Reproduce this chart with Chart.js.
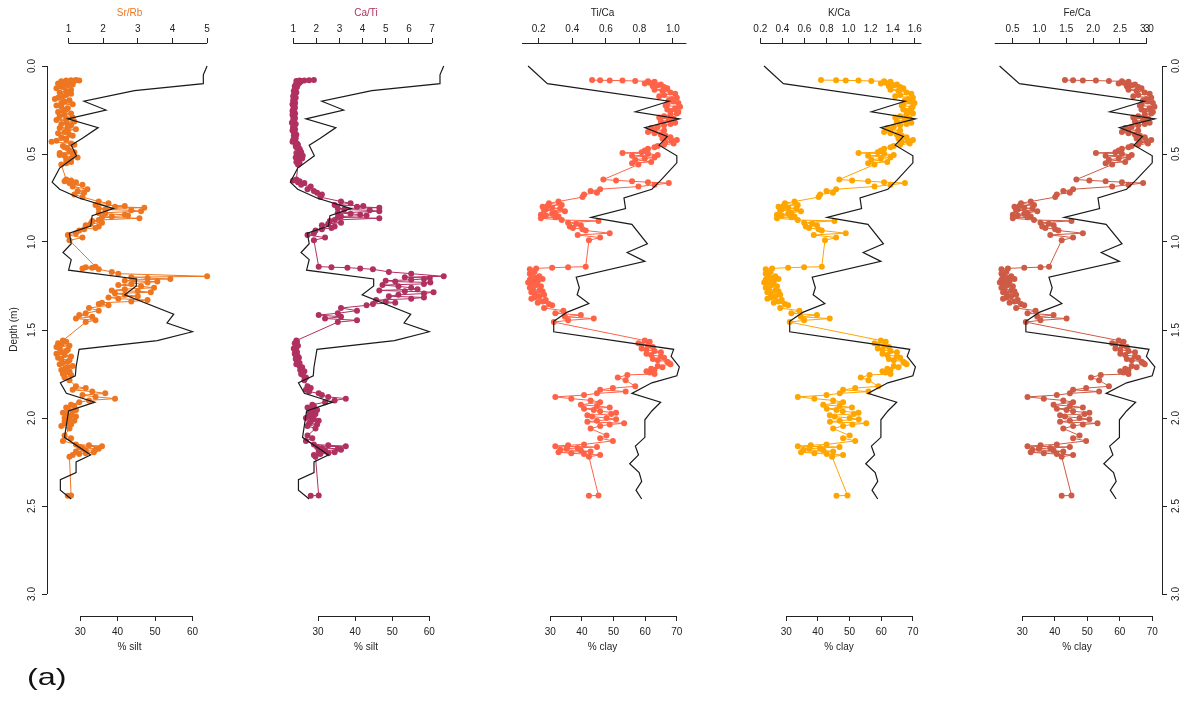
<!DOCTYPE html>
<html>
<head>
<meta charset="utf-8">
<script src="https://cdn.jsdelivr.net/npm/chart.js@4.4.1/dist/chart.umd.min.js"></script>
<style>
  html, body { margin: 0; padding: 0; background: #fff; }
  #wrap { position: relative; width: 1186px; height: 702px; overflow: hidden; }
  #wrap canvas { position: absolute; top: 0; }
  #tag { position: absolute; left: 27px; top: 665px; font: 24px "Liberation Sans", Arial, sans-serif; line-height: 24px; color: #111;
         transform: scaleX(1.35); transform-origin: left top; }
</style>
</head>
<body>
<div id="wrap">
  <canvas id="c1"></canvas>
  <canvas id="c2"></canvas>
  <canvas id="c3"></canvas>
  <canvas id="c4"></canvas>
  <canvas id="c5"></canvas>
  <div id="tag">(a)</div>
</div>
<script>
// XRF scan depths (m), shared by all element ratios
const xrfDepth = [
  0.080,0.081,0.082,0.083,0.085,0.087,0.090,0.100,0.110,0.120,
  0.135,0.150,0.165,0.180,0.195,0.210,0.225,0.240,0.255,0.270,
  0.285,0.300,0.315,0.330,0.345,0.360,0.375,0.390,0.405,0.420,
  0.430,0.440,0.455,0.470,0.490,0.494,0.498,0.510,0.520,0.532,
  0.545,0.560,0.645,0.650,0.655,0.660,0.665,0.675,0.685,0.700,
  0.710,0.720,0.730,0.745,0.770,0.780,0.790,0.800,0.805,0.815,
  0.825,0.835,0.845,0.855,0.865,0.875,0.880,0.890,0.905,0.920,
  0.935,0.950,0.960,0.975,0.990,1.140,1.143,1.146,1.150,1.155,
  1.170,1.180,1.195,1.200,1.210,1.220,1.230,1.245,1.260,1.275,
  1.285,1.300,1.315,1.330,1.345,1.360,1.375,1.390,1.405,1.415,
  1.425,1.435,1.445,1.455,1.560,1.575,1.590,1.605,1.620,1.635,
  1.650,1.665,1.680,1.695,1.705,1.720,1.735,1.750,1.755,1.770,
  1.785,1.820,1.830,1.840,1.850,1.860,1.870,1.880,1.890,1.900,
  1.910,1.925,1.940,1.955,1.970,1.985,2.000,2.015,2.030,2.045,
  2.060,2.100,2.115,2.130,2.150,2.160,2.170,2.180,2.190,2.200,
  2.210,2.220,2.440,2.442,
  // in-between readings inside the densely scanned intervals
  0.095,0.105,0.115,0.127,0.142,0.157,0.172,0.187,0.202,0.217,
  0.232,0.247,0.262,0.277,0.292,0.307,0.322,0.337,0.352,0.367,
  0.382,0.397,0.412,0.425,0.448,0.462,0.480,0.505,0.526,0.552,
  1.567,1.582,1.597,1.612,1.627,1.642,1.657,1.672,1.687,1.712,
  1.727,1.742,1.932,1.947,1.962,1.977,1.992,2.007,2.022,2.037,
  2.155,2.165,2.175,2.185,2.195,2.205,0.795,0.810,0.820,0.840,
  0.850,0.860,0.897,0.912,0.927,1.205,1.215,1.225,1.238,1.252,
  1.268,1.280,1.293,1.308,1.322,1.338,1.352
];

const srRb = [
  1.216,1.075,1.310,0.934,1.169,0.793,1.075,0.700,0.981,0.840,
  1.075,0.746,0.934,0.700,1.028,0.793,0.653,0.981,0.840,1.075,
  0.746,0.934,1.169,0.793,0.981,1.216,0.887,1.028,0.793,0.934,
  0.512,1.075,0.840,0.981,1.169,0.746,1.122,0.887,1.263,0.934,
  1.075,0.793,0.934,1.075,0.887,1.216,1.028,1.404,1.122,1.545,
  1.263,1.451,1.169,1.404,1.873,2.155,1.779,2.343,3.188,2.061,
  3.094,1.873,2.624,2.249,3.047,1.873,1.685,1.967,1.498,1.779,
  1.310,1.216,0.981,1.404,1.028,1.779,1.498,1.685,1.404,1.873,
  2.249,2.437,5.000,2.812,3.939,2.624,3.282,2.437,3.469,2.249,
  3.376,2.624,2.155,3.282,1.967,2.155,1.592,1.873,1.498,1.310,
  1.685,1.216,1.779,1.498,0.840,0.700,1.028,0.746,0.934,0.653,
  1.075,0.793,0.981,0.746,1.122,0.887,1.028,0.840,1.075,0.887,
  1.028,1.216,1.498,1.122,1.685,2.061,1.404,1.779,2.343,1.592,
  1.310,1.075,0.934,1.216,0.840,1.075,0.887,1.169,0.934,0.793,
  1.028,0.887,1.075,0.840,1.216,1.967,1.404,1.779,1.216,1.498,
  1.122,1.028,1.075,0.981,
  0.887,1.122,0.793,0.653,0.934,1.075,0.840,0.606,0.887,1.122,
  0.793,0.934,0.700,0.887,1.122,0.653,0.934,1.075,0.746,0.981,
  0.700,1.122,0.934,0.653,1.169,0.887,1.028,0.746,1.075,0.934,
  0.934,0.793,0.653,0.981,0.793,0.887,0.700,1.028,0.840,0.981,
  0.793,0.934,1.169,0.981,1.122,0.934,1.216,1.028,0.887,1.075,
  1.592,1.310,1.873,1.498,1.732,1.310,2.624,1.873,2.812,2.061,
  2.718,1.967,1.638,1.873,1.451,3.282,2.906,3.563,2.812,3.094,
  2.624,3.000,2.343,3.000,2.437,2.812,1.873
];

const caTi = [
  1.895,1.689,1.482,1.275,1.138,1.344,1.207,1.138,1.110,1.165,
  1.069,1.138,1.028,1.110,1.000,1.083,1.000,1.069,0.972,1.083,
  1.000,1.069,1.028,1.110,1.000,1.083,1.028,1.138,1.069,1.000,
  0.972,1.165,1.110,1.275,1.344,1.138,1.207,1.413,1.110,1.275,
  1.138,1.207,1.138,1.000,1.275,1.207,1.482,1.344,1.758,1.620,
  1.895,2.033,2.240,2.171,3.066,3.479,2.791,3.755,4.719,3.204,
  4.719,2.928,3.893,3.066,4.719,2.791,2.584,3.066,2.240,2.653,
  1.964,1.895,1.620,2.377,1.895,2.102,2.653,3.342,3.893,4.444,
  5.132,6.096,7.501,5.821,6.647,4.994,6.923,4.857,6.096,4.719,
  7.061,5.545,6.647,4.581,5.408,4.168,3.066,3.755,2.928,2.102,
  3.066,2.377,3.755,2.928,1.138,1.069,1.207,1.028,1.138,1.069,
  1.207,1.110,1.207,1.138,1.275,1.344,1.482,1.344,1.413,1.551,
  1.482,1.620,1.758,1.551,1.689,2.102,2.240,2.515,3.273,2.791,
  2.377,1.826,1.620,2.033,1.689,1.895,1.551,2.102,1.689,1.620,
  1.964,1.620,1.826,1.551,1.895,3.273,2.240,3.066,2.102,2.515,
  1.895,1.964,2.102,1.758,
  1.275,1.207,1.069,1.110,1.028,1.083,1.000,1.069,1.028,0.972,
  1.069,1.000,1.041,0.972,1.069,1.000,0.945,1.055,1.000,0.972,
  1.083,1.028,1.110,1.055,1.207,1.138,1.303,1.248,1.386,1.275,
  1.165,1.110,1.138,1.069,1.165,1.110,1.248,1.165,1.275,1.386,
  1.303,1.413,1.895,1.758,1.826,1.964,1.689,1.895,1.758,2.033,
  2.515,2.033,2.928,2.377,2.791,2.171,4.030,2.928,4.306,3.479,
  4.168,2.928,2.515,2.791,2.240,6.900,6.096,5.408,6.647,5.545,
  6.372,5.821,6.647,5.132,6.096,4.994,4.444
];

const tiCa = [
  0.518,0.566,0.623,0.699,0.775,0.851,0.890,0.832,0.909,0.947,
  0.890,0.985,0.947,1.023,0.975,1.032,0.956,1.013,0.985,1.023,
  0.947,1.004,0.928,0.985,0.909,0.890,0.851,0.928,0.985,1.023,
  0.956,1.004,0.909,0.851,0.813,0.699,0.851,0.756,0.890,0.775,
  0.870,0.794,0.585,0.661,0.756,0.851,0.975,0.890,0.794,0.566,
  0.509,0.547,0.470,0.461,0.318,0.261,0.337,0.223,0.280,0.242,
  0.356,0.299,0.213,0.318,0.213,0.337,0.556,0.375,0.451,0.404,
  0.480,0.623,0.432,0.566,0.499,0.480,0.375,0.280,0.185,0.147,
  0.175,0.147,0.204,0.156,0.223,0.166,0.137,0.185,0.147,0.204,
  0.156,0.232,0.175,0.242,0.194,0.280,0.232,0.347,0.299,0.451,
  0.356,0.528,0.375,0.290,0.832,0.794,0.851,0.813,0.890,0.842,
  0.928,0.880,0.966,0.985,0.909,0.870,0.842,0.890,0.728,0.671,
  0.718,0.775,0.642,0.566,0.718,0.547,0.470,0.299,0.394,0.509,
  0.566,0.451,0.623,0.528,0.661,0.490,0.604,0.547,0.709,0.566,
  0.509,0.604,0.566,0.642,0.470,0.299,0.432,0.328,0.509,0.394,
  0.566,0.499,0.556,0.499,
  0.861,0.928,0.880,0.966,0.937,1.013,0.918,0.994,1.004,0.966,
  1.042,0.966,1.032,0.985,0.918,0.975,1.013,0.947,0.870,0.947,
  0.890,0.956,0.937,0.994,0.947,0.890,0.832,0.909,0.832,0.756,
  0.861,0.813,0.880,0.842,0.928,0.870,0.947,0.909,0.975,0.937,
  0.890,0.861,0.547,0.470,0.566,0.632,0.518,0.661,0.490,0.623,
  0.375,0.547,0.366,0.451,0.318,0.470,0.251,0.328,0.232,0.280,
  0.242,0.299,0.423,0.385,0.461,0.175,0.147,0.194,0.156,0.213,
  0.166,0.223,0.175,0.204,0.156,0.223,0.261
];

const kCa = [
  0.750,0.887,0.974,1.090,1.206,1.322,1.380,1.293,1.409,1.467,
  1.380,1.525,1.467,1.583,1.510,1.597,1.481,1.568,1.525,1.583,
  1.467,1.554,1.438,1.525,1.409,1.380,1.322,1.438,1.525,1.583,
  1.481,1.554,1.409,1.322,1.264,1.090,1.322,1.177,1.380,1.206,
  1.351,1.235,0.916,1.032,1.177,1.322,1.510,1.380,1.235,0.887,
  0.800,0.858,0.742,0.728,0.510,0.423,0.539,0.365,0.452,0.394,
  0.568,0.481,0.351,0.510,0.351,0.539,0.872,0.597,0.713,0.641,
  0.757,0.974,0.684,0.887,0.786,0.757,0.597,0.452,0.307,0.249,
  0.293,0.249,0.336,0.264,0.365,0.278,0.235,0.307,0.249,0.336,
  0.264,0.380,0.293,0.394,0.322,0.452,0.380,0.554,0.481,0.713,
  0.568,0.829,0.597,0.467,1.293,1.235,1.322,1.264,1.380,1.307,
  1.438,1.365,1.496,1.525,1.409,1.351,1.307,1.380,1.190,1.110,
  1.180,1.270,1.060,0.950,1.180,0.920,0.800,0.540,0.690,0.860,
  0.950,0.770,1.030,0.890,1.090,0.830,1.010,0.920,1.160,0.950,
  0.860,1.010,0.950,1.060,0.800,0.540,0.740,0.590,0.860,0.690,
  0.950,0.850,0.990,0.890,
  1.336,1.438,1.365,1.496,1.452,1.568,1.423,1.539,1.554,1.496,
  1.580,1.496,1.570,1.525,1.423,1.510,1.568,1.467,1.351,1.467,
  1.380,1.481,1.452,1.539,1.467,1.380,1.293,1.409,1.293,1.177,
  1.336,1.264,1.365,1.307,1.438,1.351,1.467,1.409,1.510,1.452,
  1.380,1.336,0.918,0.802,0.947,1.048,0.874,1.092,0.831,1.034,
  0.657,0.918,0.643,0.773,0.570,0.802,0.409,0.525,0.380,0.452,
  0.394,0.481,0.670,0.612,0.728,0.293,0.249,0.322,0.264,0.351,
  0.278,0.365,0.293,0.336,0.264,0.365,0.423
];

const feCa = [
  1.476,1.627,1.809,2.052,2.294,2.536,2.658,2.476,2.718,2.839,
  2.658,2.961,2.839,3.082,2.930,3.112,2.870,3.052,2.961,3.082,
  2.839,3.021,2.779,2.961,2.718,2.658,2.536,2.779,2.961,3.082,
  2.870,3.021,2.718,2.536,2.415,2.052,2.536,2.233,2.658,2.294,
  2.597,2.355,1.688,1.930,2.233,2.536,2.930,2.658,2.355,1.627,
  1.445,1.567,1.324,1.294,0.839,0.658,0.900,0.536,0.718,0.597,
  0.961,0.779,0.506,0.839,0.506,0.900,1.597,1.021,1.264,1.112,
  1.355,1.809,1.203,1.627,1.415,1.180,1.021,0.718,0.415,0.294,
  0.385,0.294,0.476,0.324,0.536,0.355,0.264,0.415,0.294,0.476,
  0.324,0.567,0.385,0.597,0.445,0.718,0.567,0.930,0.779,1.264,
  0.961,1.506,1.021,0.748,2.476,2.355,2.536,2.415,2.658,2.506,
  2.779,2.627,2.900,2.961,2.718,2.597,2.506,2.658,2.142,1.961,
  2.112,2.294,1.870,1.627,2.112,1.567,1.324,0.779,1.082,1.445,
  1.627,1.264,1.809,1.506,1.930,1.385,1.748,1.567,2.082,1.627,
  1.445,1.748,1.627,1.870,1.324,0.779,1.203,0.870,1.445,1.082,
  1.627,1.415,1.597,1.415,
  2.567,2.779,2.627,2.900,2.809,3.052,2.748,2.991,3.021,2.900,
  3.142,2.900,3.112,2.961,2.748,2.930,3.052,2.839,2.597,2.839,
  2.658,2.870,2.809,2.991,2.839,2.658,2.476,2.718,2.476,2.233,
  2.567,2.415,2.627,2.506,2.779,2.597,2.839,2.718,2.930,2.809,
  2.658,2.567,1.567,1.324,1.627,1.839,1.476,1.930,1.385,1.809,
  1.021,1.567,0.991,1.264,0.839,1.324,0.627,0.870,0.567,0.718,
  0.597,0.779,1.173,1.052,1.294,0.385,0.294,0.445,0.324,0.506,
  0.355,0.536,0.385,0.476,0.324,0.536,0.658
];

// grain size: % silt and % clay against depth (m)
const siltDepth = [0.00,0.05,0.10,0.14,0.20,0.25,0.30,0.35,0.41,0.45,0.51,0.58,0.66,0.70,0.75,0.81,0.85,0.91,0.95,1.01,1.06,1.10,1.16,1.21,1.25,1.30,1.41,1.46,1.51,1.56,1.61,1.71,1.76,1.80,1.86,1.91,1.96,2.11,2.21,2.25,2.31,2.35,2.41,2.46];
const siltPct = [63.9,62.9,62.9,44.5,31.0,36.9,26.7,34.8,30.6,27.6,29.0,24.5,22.5,24.5,29.7,38.9,33.2,32.8,27.1,27.6,25.4,27.6,26.9,45.0,45.0,41.9,55.0,53.2,60.0,50.6,29.7,28.9,28.7,24.7,26.3,33.9,26.9,25.8,32.8,28.9,28.9,24.7,24.7,27.6];

const clayDepth = [0.00,0.10,0.20,0.26,0.30,0.35,0.40,0.45,0.51,0.55,0.65,0.70,0.75,0.81,0.86,0.90,1.01,1.06,1.11,1.20,1.26,1.30,1.35,1.40,1.45,1.51,1.61,1.65,1.71,1.76,1.80,1.86,1.91,1.96,2.01,2.11,2.16,2.21,2.26,2.31,2.36,2.41,2.46];
const clayPct = [23.0,29.1,67.5,56.9,70.8,59.9,67.0,64.4,70.0,70.0,64.9,62.1,53.3,53.8,42.9,55.8,60.7,54.3,59.9,38.2,39.2,38.5,42.2,35.2,31.1,31.1,69.0,68.2,70.8,70.0,62.1,55.8,64.9,62.1,59.9,59.9,56.9,57.9,55.1,58.1,58.9,57.1,58.9];

// tick values and labels
const depthTicks = [0, 0.5, 1, 1.5, 2, 2.5, 3];
const depthLabels = ['0.0', '0.5', '1.0', '1.5', '2.0', '2.5', '3.0'];
const srTicks = [1, 2, 3, 4, 5];
const srLabels = ['1', '2', '3', '4', '5'];
const caTicks = [1, 2, 3, 4, 5, 6, 7];
const caLabels = ['1', '2', '3', '4', '5', '6', '7'];
const tiTicks = [0.2, 0.4, 0.6, 0.8, 1.0];
const tiLabels = ['0.2', '0.4', '0.6', '0.8', '1.0'];
const kTicks = [0.2, 0.4, 0.6, 0.8, 1.0, 1.2, 1.4, 1.6];
const kLabels = ['0.2', '0.4', '0.6', '0.8', '1.0', '1.2', '1.4', '1.6'];
const feTicks = [0.5, 1.0, 1.5, 2.0, 2.5, 3.0, 3.0];
const feLabels = ['0.5', '1.0', '1.5', '2.0', '2.5', '3.0', '3'];
const siltTicks = [30, 40, 50, 60];
const siltLabels = ['30', '40', '50', '60'];
const clayTicks = [30, 40, 50, 60, 70];
const clayLabels = ['30', '40', '50', '60', '70'];

const FONT = "'Liberation Sans', Arial, sans-serif";
const INK = '#222';
const PAGE_W = 1186, PAGE_H = 702;
const AREA_TOP = 43, AREA_BOTTOM = 616;   // plot box, px
const DEPTH0_PX = 66, DEPTH3_PX = 594;     // where 0 m and 3 m sit

// value range for an axis so that v0 lands on p0 and v1 on p1
function fitRange(v0, p0, v1, p1, lo, hi) {
  const k = (v1 - v0) / (p1 - p0);
  return { min: v0 + (lo - p0) * k, max: v0 + (hi - p0) * k };
}

// R style axis line drawn only over a value span
function axisLines(spans) {
  return {
    id: 'axisLines',
    afterDraw(chart) {
      const ctx = chart.ctx;
      ctx.save();
      ctx.strokeStyle = INK;
      ctx.lineWidth = 1;
      Object.keys(spans).forEach(id => {
        const s = chart.scales[id];
        if (!s) return;
        const a = s.getPixelForValue(spans[id][0]);
        const b = s.getPixelForValue(spans[id][1]);
        ctx.beginPath();
        if (s.isHorizontal()) {
          const y = Math.round((s.position === 'top' ? s.bottom : s.top) - 0.5) + 0.5;
          ctx.moveTo(a, y); ctx.lineTo(b, y);
        } else {
          const x = Math.round((s.position === 'left' ? s.right : s.left) - 0.5) + 0.5;
          ctx.moveTo(x, a); ctx.lineTo(x, b);
        }
        ctx.stroke();
      });
      ctx.restore();
    }
  };
}

const panels = [
  { id: 'c1', left: 47, right: 216, yAxis: 'left', values: srRb, color: '#EE7621',
    title: 'Sr/Rb', titleColor: '#EE7621', topA: [1, 69], topB: [5, 211], topTicks: srTicks, topLabels: srLabels, topSpan: [1, 5],
    botTitle: '% silt', botA: [30, 81], botB: [60, 196], botTicks: siltTicks, botLabels: siltLabels, botSpan: [30, 60],
    gDepth: siltDepth, gVals: siltPct },
  { id: 'c2', left: 270, right: 462, yAxis: null, values: caTi, color: '#B03060',
    title: 'Ca/Ti', titleColor: '#B03060', topA: [1, 290], topB: [7, 435], topTicks: caTicks, topLabels: caLabels, topSpan: [1, 7],
    botTitle: '% silt', botA: [30, 316], botB: [60, 432], botTicks: siltTicks, botLabels: siltLabels, botSpan: [30, 60],
    gDepth: siltDepth, gVals: siltPct },
  { id: 'c3', left: 505, right: 700, yAxis: null, values: tiCa, color: '#FF6347',
    title: 'Ti/Ca', titleColor: INK, topA: [0.2, 536], topB: [1.0, 676], topTicks: tiTicks, topLabels: tiLabels, topSpan: [0.1, 1.08],
    botTitle: '% clay', botA: [30, 548], botB: [70, 680], botTicks: clayTicks, botLabels: clayLabels, botSpan: [30, 70],
    gDepth: clayDepth, gVals: clayPct },
  { id: 'c4', left: 740, right: 938, yAxis: null, values: kCa, color: '#FFA500',
    title: 'K/Ca', titleColor: INK, topA: [0.2, 757], topB: [1.6, 918], topTicks: kTicks, topLabels: kLabels, topSpan: [0.2, 1.66],
    botTitle: '% clay', botA: [30, 784], botB: [70, 916], botTicks: clayTicks, botLabels: clayLabels, botSpan: [30, 70],
    gDepth: clayDepth, gVals: clayPct },
  { id: 'c5', left: 988, right: 1162, yAxis: 'right', values: feCa, color: '#CD5B45',
    title: 'Fe/Ca', titleColor: INK, topA: [0.5, 1009], topB: [2.5, 1119], topTicks: feTicks, topLabels: feLabels, topSpan: [0.17, 3.0],
    botTitle: '% clay', botA: [30, 1019], botB: [70, 1152], botTicks: clayTicks, botLabels: clayLabels, botSpan: [30, 70],
    gDepth: clayDepth, gVals: clayPct }
];

const tickFont = { family: FONT, size: 10 };
const yRange = fitRange(0, DEPTH0_PX, 3, DEPTH3_PX, AREA_TOP, AREA_BOTTOM);
// readings are joined in depth order
const byDepth = xrfDepth.map((d, i) => i).sort((a, b) => xrfDepth[a] - xrfDepth[b]);

panels.forEach(p => {
  let canvasLeft = p.left, canvasWidth = p.right - p.left, yWidth = 0;
  if (p.yAxis === 'left') { canvasLeft = 0; canvasWidth = p.right; yWidth = p.left; }
  if (p.yAxis === 'right') { canvasWidth = PAGE_W - p.left; yWidth = PAGE_W - p.right; }

  const cv = document.getElementById(p.id);
  cv.width = canvasWidth; cv.height = PAGE_H;
  cv.style.left = canvasLeft + 'px';
  cv.style.width = canvasWidth + 'px';
  cv.style.height = PAGE_H + 'px';

  const topR = fitRange(p.topA[0], p.topA[1], p.topB[0], p.topB[1], p.left, p.right);
  const botR = fitRange(p.botA[0], p.botA[1], p.botB[0], p.botB[1], p.left, p.right);

  const spans = { xt: p.topSpan, xb: p.botSpan };
  if (p.yAxis) spans.y = [0, 3];

  new Chart(cv, {
    type: 'scatter',
    data: {
      datasets: [
        {
          label: p.title,
          data: byDepth.map(i => ({ x: p.values[i], y: xrfDepth[i] })),
          xAxisID: 'xt', yAxisID: 'y',
          showLine: true, borderColor: p.color, borderWidth: 1,
          pointRadius: 3, pointBackgroundColor: p.color, pointBorderWidth: 0,
          order: 1, clip: false
        },
        {
          label: p.botTitle,
          data: p.gDepth.map((d, i) => ({ x: p.gVals[i], y: d })),
          xAxisID: 'xb', yAxisID: 'y',
          showLine: true, borderColor: '#1a1a1a', borderWidth: 1.2,
          pointRadius: 0, order: 0, clip: false
        }
      ]
    },
    options: {
      responsive: false,
      animation: false,
      events: [],
      layout: { padding: 0 },
      plugins: { legend: { display: false }, tooltip: { enabled: false } },
      scales: {
        xt: {
          type: 'linear', position: 'top', min: topR.min, max: topR.max,
          afterBuildTicks: s => { s.ticks = p.topTicks.map(v => ({ value: v })); },
          afterFit: s => { s.height = AREA_TOP; },
          grid: { drawOnChartArea: false, drawTicks: true, tickLength: 5, color: INK, lineWidth: 1 },
          border: { display: false },
          ticks: { autoSkip: false, minRotation: 0, maxRotation: 0, padding: 3, font: tickFont, color: INK,
                   callback: (v, i) => p.topLabels[i] },
          title: { display: true, text: p.title, color: p.titleColor, font: tickFont, padding: { top: 7.5, bottom: 0 } }
        },
        xb: {
          type: 'linear', position: 'bottom', min: botR.min, max: botR.max,
          afterBuildTicks: s => { s.ticks = p.botTicks.map(v => ({ value: v })); },
          afterFit: s => { s.height = PAGE_H - AREA_BOTTOM; },
          grid: { drawOnChartArea: false, drawTicks: true, tickLength: 5, color: INK, lineWidth: 1 },
          border: { display: false },
          ticks: { autoSkip: false, minRotation: 0, maxRotation: 0, padding: 5, font: tickFont, color: INK,
                   callback: (v, i) => p.botLabels[i] },
          title: { display: true, text: p.botTitle, color: INK, font: tickFont, padding: { top: 0, bottom: 49 } }
        },
        y: {
          type: 'linear', reverse: true, min: yRange.min, max: yRange.max,
          display: !!p.yAxis,
          position: p.yAxis || 'left',
          afterBuildTicks: s => { s.ticks = depthTicks.map(v => ({ value: v })); },
          afterFit: s => { s.width = yWidth; },
          grid: { drawOnChartArea: false, drawTicks: true, tickLength: 5, color: INK, lineWidth: 1 },
          border: { display: false },
          ticks: { autoSkip: false, minRotation: 90, maxRotation: 90, crossAlign: 'center', padding: 2.5,
                   font: tickFont, color: INK, callback: (v, i) => depthLabels[i] },
          title: { display: p.yAxis === 'left', text: 'Depth (m)', color: INK, font: tickFont, padding: { top: 8, bottom: 0 } }
        }
      }
    },
    plugins: [axisLines(spans)]
  });
});
</script>
</body>
</html>
